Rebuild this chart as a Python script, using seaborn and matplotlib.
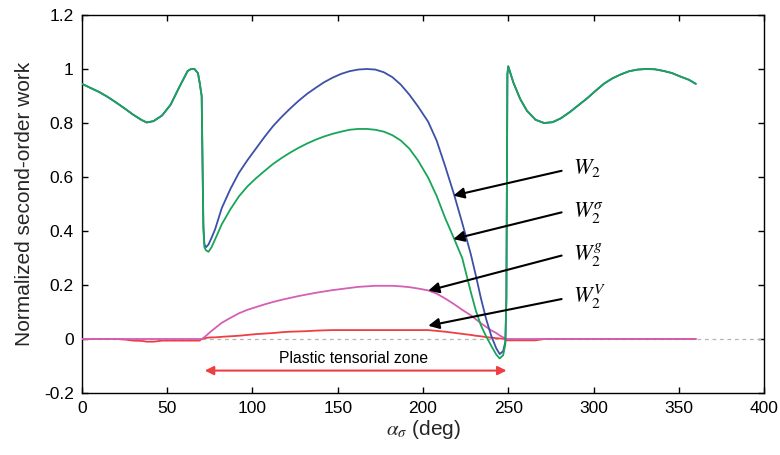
import numpy as np
import pandas as pd
import matplotlib
matplotlib.use("Agg")
import matplotlib.pyplot as plt
from matplotlib.ticker import FuncFormatter, MultipleLocator
import seaborn as sns

# ---------------- data ----------------
angle = [0, 5, 10, 15, 20, 25, 30, 35, 38, 42, 47, 52, 57, 62, 64, 66, 68, 69, 70.2, 70.6, 71.2,
         71.8, 72.8, 74.2, 76, 78, 82, 87, 92, 97, 102, 107, 112, 117, 122, 127, 132, 137, 142,
         147, 152, 157, 162, 167, 172, 177, 182, 187, 192, 197, 203, 208, 213, 218, 223, 228,
         231, 234, 237, 240, 243, 245, 247, 248.3, 248.9, 249.5, 250, 251, 253, 257, 261, 266,
         271, 276, 281, 286, 291, 296, 301, 306, 311, 316, 321, 326, 331, 336, 341, 346, 351,
         356, 360]

w2 = [0.945, 0.930, 0.915, 0.897, 0.876, 0.854, 0.831, 0.811, 0.802, 0.807, 0.828, 0.868, 0.932,
      0.993, 1.000, 1.000, 0.985, 0.950, 0.900, 0.700, 0.420, 0.350, 0.340, 0.350, 0.375, 0.405,
      0.485, 0.555, 0.615, 0.662, 0.705, 0.748, 0.788, 0.822, 0.853, 0.882, 0.908, 0.930, 0.951,
      0.968, 0.982, 0.992, 0.998, 1.000, 0.998, 0.988, 0.970, 0.942, 0.905, 0.862, 0.805, 0.735,
      0.640, 0.540, 0.430, 0.315, 0.235, 0.150, 0.075, 0.012, -0.035, -0.056, -0.045, -0.010,
      0.150, 0.980, 1.010, 0.990, 0.950, 0.889, 0.845, 0.812, 0.800, 0.803, 0.818, 0.840, 0.865,
      0.890, 0.918, 0.945, 0.965, 0.980, 0.992, 0.998, 1.000, 0.999, 0.993, 0.985, 0.972, 0.960,
      0.945]

w2_sigma = [0.945, 0.930, 0.915, 0.897, 0.876, 0.854, 0.831, 0.811, 0.802, 0.807, 0.828, 0.868,
            0.932, 0.993, 1.000, 1.000, 0.985, 0.950, 0.900, 0.700, 0.410, 0.340, 0.328, 0.323,
            0.340, 0.368, 0.425, 0.480, 0.528, 0.565, 0.595, 0.622, 0.648, 0.670, 0.690, 0.708,
            0.724, 0.738, 0.750, 0.760, 0.768, 0.775, 0.778, 0.778, 0.775, 0.768, 0.755, 0.735,
            0.705, 0.662, 0.598, 0.530, 0.448, 0.375, 0.300, 0.175, 0.105, 0.050, 0.010, -0.025,
            -0.058, -0.072, -0.060, -0.020, 0.150, 0.980, 1.010, 0.990, 0.950, 0.889, 0.845, 0.812,
            0.800, 0.803, 0.818, 0.840, 0.865, 0.890, 0.918, 0.945, 0.965, 0.980, 0.992, 0.998,
            1.000, 0.999, 0.993, 0.985, 0.972, 0.960, 0.945]

w2_g = [0, 0, 0, 0, 0, 0, 0, 0, 0, 0, 0, 0, 0, 0, 0, 0, 0, 0, 0.000, 0.001, 0.004, 0.007, 0.012,
        0.020, 0.030, 0.040, 0.060, 0.078, 0.095, 0.108, 0.118, 0.128, 0.137, 0.145, 0.152, 0.159,
        0.165, 0.171, 0.176, 0.181, 0.185, 0.189, 0.193, 0.195, 0.197, 0.197, 0.197, 0.195, 0.192,
        0.187, 0.180, 0.168, 0.150, 0.130, 0.108, 0.088, 0.073, 0.058, 0.045, 0.032, 0.022, 0.013,
        0.006, 0.002, 0.000, 0, 0, 0, 0, 0, 0, 0, 0, 0, 0, 0, 0, 0, 0, 0, 0, 0, 0, 0, 0, 0, 0, 0,
        0, 0, 0]

w2_v = [0, 0, 0, 0, 0, -0.002, -0.006, -0.007, -0.010, -0.010, -0.006, -0.006, -0.006, -0.006,
        -0.006, -0.006, -0.006, -0.006, 0.000, 0.000, 0.002, 0.003, 0.004, 0.005, 0.006, 0.006,
        0.008, 0.010, 0.012, 0.015, 0.018, 0.020, 0.022, 0.025, 0.027, 0.028, 0.029, 0.031, 0.032,
        0.033, 0.033, 0.033, 0.033, 0.033, 0.033, 0.033, 0.033, 0.033, 0.033, 0.033, 0.033, 0.030,
        0.027, 0.023, 0.019, 0.015, 0.012, 0.010, 0.007, 0.005, 0.003, 0.002, 0.001, 0.000, -0.005,
        -0.005, -0.005, -0.005, -0.005, -0.005, -0.005, -0.005, 0, 0, 0, 0, 0, 0, 0, 0, 0, 0, 0, 0,
        0, 0, 0, 0, 0, 0, 0]

series_labels = [r"$W_2$", r"$W_2^{\sigma}$", r"$W_2^{g}$", r"$W_2^{V}$"]
zone_label = "Plastic tensorial zone"
zone_range = [72, 249]
x_ticks = [0, 50, 100, 150, 200, 250, 300, 350, 400]

# ---------------- style ----------------
sns.set_theme(style="ticks")
plt.rcParams["font.family"] = ["Liberation Sans", "DejaVu Sans"]
plt.rcParams["mathtext.fontset"] = "stix"
plt.rcParams["axes.linewidth"] = 1.0

df = pd.DataFrame({"angle": angle, "W2": w2, "W2s": w2_sigma, "W2g": w2_g, "W2V": w2_v})

fig = plt.figure(figsize=(7.8, 4.55), dpi=100)
ax = fig.add_axes([0.1051, 0.1363, 0.8744, 0.8307])

ax.axhline(0, color="#b5b5b5", lw=0.9, ls=(0, (3, 3)), zorder=1)

colors = {"W2V": "#ef3e42", "W2g": "#d45fb5", "W2": "#3c50a8", "W2s": "#18a558"}
for key in ["W2V", "W2g", "W2", "W2s"]:
    sns.lineplot(data=df, x="angle", y=key, ax=ax, color=colors[key], lw=1.3,
                 estimator=None, sort=False, zorder=3)

ax.set_xlim(0, 400)
ax.set_ylim(-0.2, 1.2)
ax.set_xticks(x_ticks)
ax.yaxis.set_major_locator(MultipleLocator(0.2))
ax.yaxis.set_major_formatter(FuncFormatter(
    lambda v, p: f"{v:.1f}".rstrip("0").rstrip(".") if abs(v) > 1e-9 else "0"))
ax.tick_params(direction="in", length=4, width=1.0, top=True, right=True,
               labelsize=12.5, colors="black", pad=6)
for s in ax.spines.values():
    s.set_visible(True)
    s.set_color("black")

ax.set_xlabel(r"$\alpha_{\sigma}$ (deg)", fontsize=15, labelpad=1)
ax.set_ylabel("Normalized second-order work", fontsize=15, labelpad=7)

# annotation arrows
tails = [(281.3, 0.623), (281.3, 0.469), (281.3, 0.309), (281.3, 0.148)]
heads = [(217.8, 0.531), (217.8, 0.370), (203.1, 0.179), (203.1, 0.049)]
label_y = [0.611, 0.452, 0.290, 0.133]
for lab, t, h, ly in zip(series_labels, tails, heads, label_y):
    ax.annotate("", xy=h, xytext=t,
                arrowprops=dict(arrowstyle="-|>", color="black", lw=1.5,
                                mutation_scale=16, shrinkA=0, shrinkB=0), zorder=5)
    ax.text(288, ly, lab, fontsize=16, ha="left", va="baseline", color="black")

# plastic zone double arrow
ax.annotate("", xy=(zone_range[1], -0.117), xytext=(zone_range[0], -0.117),
            arrowprops=dict(arrowstyle="<|-|>", color="#ef3e42", lw=1.5,
                            mutation_scale=13, shrinkA=0, shrinkB=0))
ax.text(159.5, -0.072, zone_label, fontsize=11.3, ha="center", va="center", color="black")

fig.savefig("out.png", dpi=100)
